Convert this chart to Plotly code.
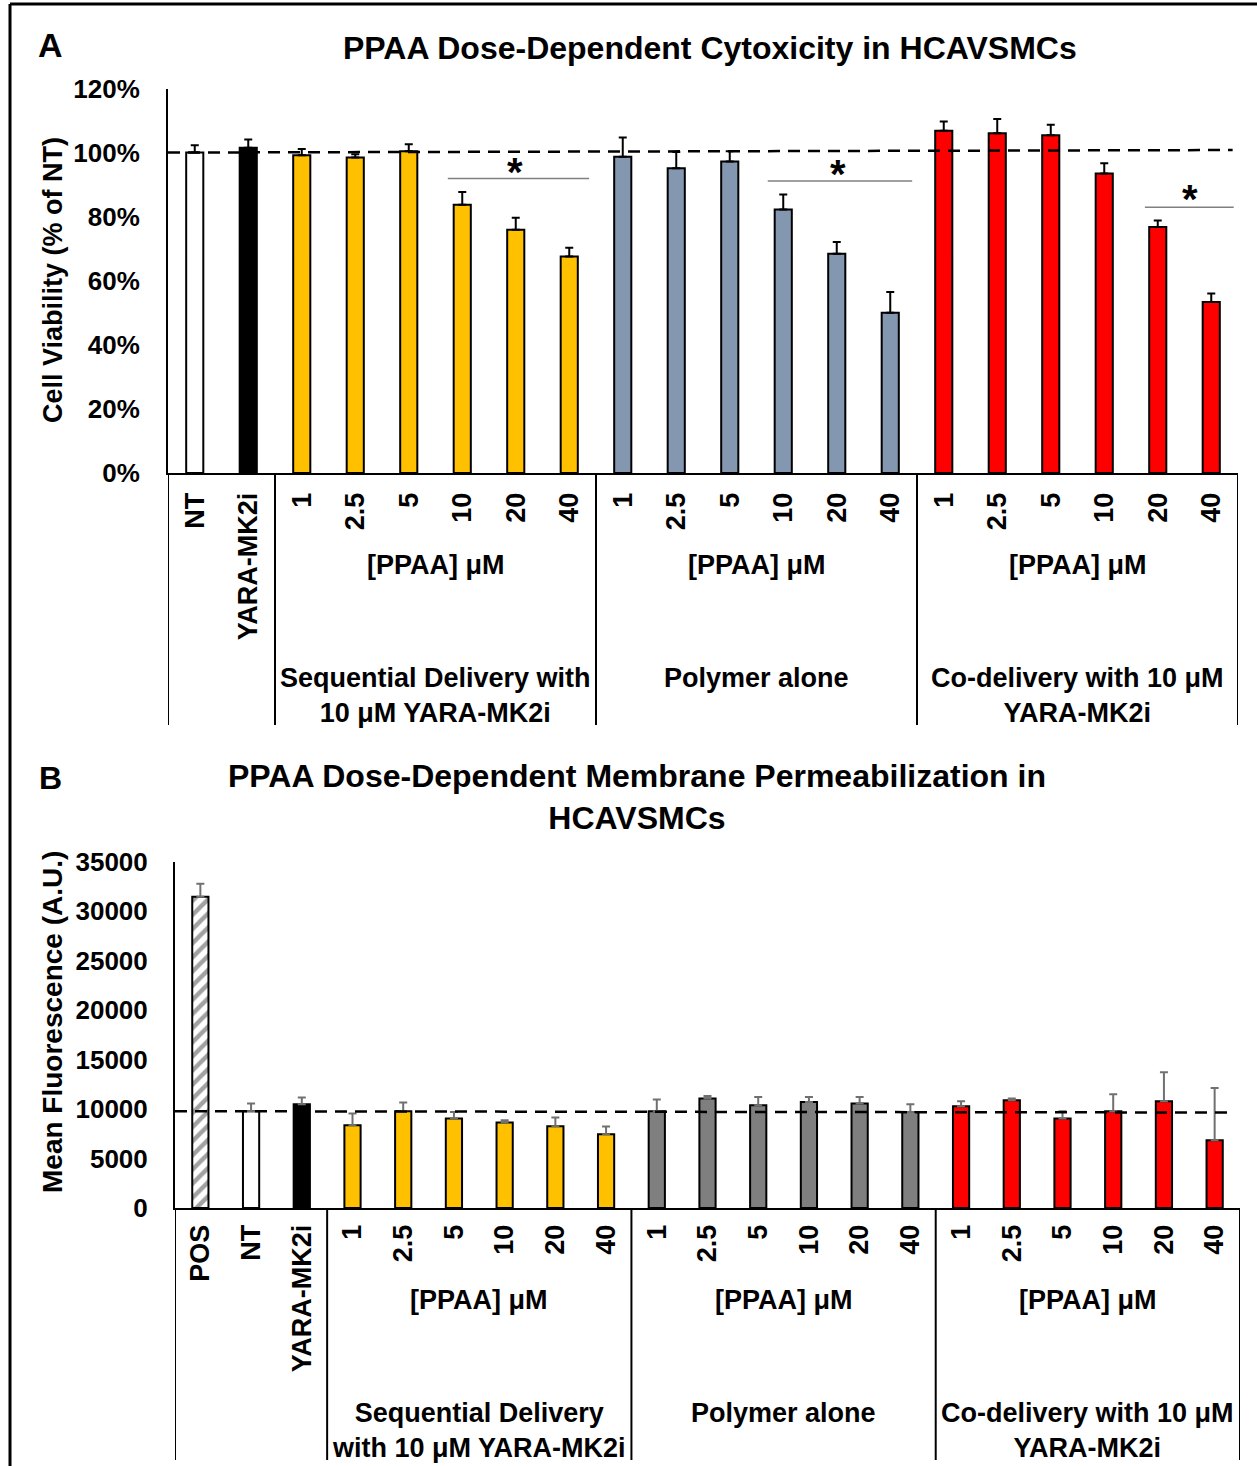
import plotly.graph_objects as go

W, H = 1257, 1466

# ---------------- data: panel A ----------------
a_labels = ["NT", "YARA-MK2i",
            "1", "2.5", "5", "10", "20", "40",
            "1", "2.5", "5", "10", "20", "40",
            "1", "2.5", "5", "10", "20", "40"]
a_groups = ["nt", "yara"] + ["seq"] * 6 + ["poly"] * 6 + ["co"] * 6
a_values = [100.0, 101.5, 99.2, 98.5, 100.4, 83.7, 75.9, 67.6,
            98.7, 95.1, 97.2, 82.2, 68.4, 50.0,
            106.8, 106.0, 105.4, 93.5, 76.8, 53.4]
a_errors = [2.3, 2.6, 1.9, 1.0, 2.2, 4.0, 3.8, 2.7,
            6.0, 5.1, 3.2, 4.7, 3.7, 6.5,
            2.9, 4.5, 3.3, 3.2, 2.0, 2.6]
a_yticks = [0, 20, 40, 60, 80, 100, 120]
a_yticktext = ["0%", "20%", "40%", "60%", "80%", "100%", "120%"]
a_ref_line = [100.0, 100.8]
a_sig_x0 = [4.73, 10.71, 17.76]
a_sig_x1 = [7.37, 13.41, 19.42]
a_sig_y = [91.9, 91.1, 82.9]
a_star_x = [5.99, 12.02, 18.6]
a_star_y = [95.3, 94.7, 86.8]
a_group_names = ["Sequential Delivery with<br>10 μM YARA-MK2i",
                 "Polymer alone",
                 "Co-delivery with 10 μM<br>YARA-MK2i"]
a_group_spans = [(2, 7), (8, 13), (14, 19)]

# ---------------- data: panel B ----------------
b_labels = ["POS", "NT", "YARA-MK2i",
            "1", "2.5", "5", "10", "20", "40",
            "1", "2.5", "5", "10", "20", "40",
            "1", "2.5", "5", "10", "20", "40"]
b_groups = ["pos", "nt", "yara"] + ["seq"] * 6 + ["poly2"] * 6 + ["co"] * 6
b_values = [31460, 9780, 10490,
            8370, 9780, 9040, 8640, 8260, 7460,
            9780, 11070, 10390, 10720, 10560, 9710,
            10290, 10890, 9040, 9780, 10790, 6850]
b_errors = [1300, 780, 680,
            1180, 880, 670, 230, 880, 780,
            1180, 260, 840, 500, 670, 780,
            500, 170, 740, 1720, 2930, 5290]
b_ref_line = [9780, 9650]
b_group_names = ["Sequential Delivery<br>with 10 μM YARA-MK2i",
                 "Polymer alone",
                 "Co-delivery with 10 μM<br>YARA-MK2i"]
b_group_spans = [(3, 8), (9, 14), (15, 20)]

title_a = "PPAA Dose-Dependent Cytoxicity in HCAVSMCs"
title_b = "PPAA Dose-Dependent Membrane Permeabilization in<br>HCAVSMCs"
ytitle_a = "Cell Viability (% of NT)"
ytitle_b = "Mean Fluorescence (A.U.)"
conc_label = "[PPAA] μM"

# ---------------- styling ----------------
FONT = "Liberation Sans, Arial, sans-serif"
color_map = {"nt": "#FFFFFF", "yara": "#000000", "seq": "#FFC000",
             "poly": "#8497B0", "poly2": "#7F7F7F", "co": "#FF0000",
             "pos": "#FFFFFF"}


def px(x):
    return x / W


def py(y):
    return 1 - y / H


fig = go.Figure()

ax_x = list(range(len(a_labels)))
fig.add_trace(go.Bar(
    x=ax_x, y=a_values, width=0.32,
    marker=dict(color=[color_map[g] for g in a_groups],
                line=dict(color="black", width=2)),
    error_y=dict(type="data", symmetric=False, array=a_errors,
                 arrayminus=[0] * len(a_errors), color="black",
                 thickness=2, width=4),
    xaxis="x", yaxis="y", showlegend=False, hoverinfo="skip"))

bx_x = list(range(len(b_labels)))
fig.add_trace(go.Bar(
    x=bx_x, y=b_values, width=0.32,
    marker=dict(color=[color_map[g] for g in b_groups],
                line=dict(color="black", width=2),
                pattern=dict(shape=["/" if g == "pos" else "" for g in b_groups],
                             fillmode="overlay", fgcolor="black",
                             size=10, solidity=0.45)),
    error_y=dict(type="data", symmetric=False, array=b_errors,
                 arrayminus=[0] * len(b_errors), color="#707070",
                 thickness=2, width=4),
    xaxis="x2", yaxis="y2", showlegend=False, hoverinfo="skip"))

xtickfont = dict(family=FONT, size=27, color="black", weight="bold")
ytickfont = dict(family=FONT, size=26, color="black", weight="bold")

common = dict(showline=True, linecolor="black", linewidth=2,
              ticks="outside", tickcolor="rgba(0,0,0,0)",
              showgrid=False, zeroline=False, automargin=False)

fig.update_layout(
    template="none",
    width=W, height=H, margin=dict(l=0, r=0, t=0, b=0, pad=0),
    autosize=False,
    paper_bgcolor="white", plot_bgcolor="white",
    font=dict(family=FONT, color="black"),
    xaxis=dict(domain=[px(168), px(1238)], anchor="y",
               range=[-0.5, len(a_labels) - 0.5],
               tickvals=ax_x, ticktext=a_labels, tickangle=-90,
               tickfont=xtickfont, ticklen=7, **common),
    yaxis=dict(domain=[py(473), py(88.5)], anchor="x",
               range=[0, 120], tickvals=a_yticks, ticktext=a_yticktext,
               tickfont=ytickfont, ticklen=21, **common),
    xaxis2=dict(domain=[px(175), px(1240)], anchor="y2",
                range=[-0.5, len(b_labels) - 0.5],
                tickvals=bx_x, ticktext=b_labels, tickangle=-90,
                tickfont=xtickfont, ticklen=4, **common),
    yaxis2=dict(domain=[py(1208), py(861.7)], anchor="x2",
                range=[0, 35000], dtick=5000, tickformat="d",
                tickfont=ytickfont, ticklen=20, **common),
)

shapes = []
# outer frame (top and left)
shapes.append(dict(type="line", xref="paper", yref="paper",
                   x0=px(10), x1=1, y0=py(4), y1=py(4),
                   line=dict(color="black", width=3)))
shapes.append(dict(type="line", xref="paper", yref="paper",
                   x0=px(10), x1=px(10), y0=py(4), y1=0,
                   line=dict(color="black", width=3)))

# category separators
for xv in [-0.5, 1.5] + [s[1] + 0.5 for s in a_group_spans]:
    shapes.append(dict(type="line", xref="x", yref="paper", x0=xv, x1=xv,
                       y0=py(473), y1=py(725),
                       line=dict(color="black", width=2)))
for xv in [-0.5, 2.5] + [s[1] + 0.5 for s in b_group_spans]:
    shapes.append(dict(type="line", xref="x2", yref="paper", x0=xv, x1=xv,
                       y0=py(1208), y1=py(1460),
                       line=dict(color="black", width=2)))

# dashed reference lines
shapes.append(dict(type="line", xref="x", yref="y", x0=-0.5, x1=19.4,
                   y0=a_ref_line[0], y1=a_ref_line[1],
                   line=dict(color="black", width=2.5, dash="12px,8px"),
                   layer="above"))
shapes.append(dict(type="line", xref="x2", yref="y2", x0=-0.5, x1=20.3,
                   y0=b_ref_line[0], y1=b_ref_line[1],
                   line=dict(color="black", width=2.5, dash="12px,8px"),
                   layer="above"))

# significance lines
for x0, x1, yv in zip(a_sig_x0, a_sig_x1, a_sig_y):
    shapes.append(dict(type="line", xref="x", yref="y", x0=x0, x1=x1,
                       y0=yv, y1=yv, line=dict(color="#808080", width=1.5)))

fig.update_layout(shapes=shapes)

ann = []


def bold(s):
    return dict(family=FONT, size=s, color="black", weight="bold")


def note(text, x, y, size, xref="paper", yref="paper", **kw):
    d = dict(text=text, x=x, y=y, xref=xref, yref=yref, showarrow=False,
             xanchor="center", yanchor="middle", font=bold(size))
    d.update(kw)
    return d


ann.append(note("A", px(50), py(45), 34))
ann.append(note("B", px(50), py(778), 32))
ann.append(note(title_a, px(710), py(48), 32))
ann.append(note(title_b, px(637), py(797), 32))
ann.append(note(ytitle_a, px(53), py(280), 27, textangle=-90))
ann.append(note(ytitle_b, px(52), py(1022), 28, textangle=-90))

for sx, sy in zip(a_star_x, a_star_y):
    ann.append(note("*", sx, sy, 40, xref="x", yref="y", yshift=-4))

for (s0, s1), name in zip(a_group_spans, a_group_names):
    c = (s0 + s1) / 2
    ann.append(note(conc_label, c, py(565), 27, xref="x"))
    ann.append(note(name, c, py(661), 27, xref="x", yanchor="top"))
for (s0, s1), name in zip(b_group_spans, b_group_names):
    c = (s0 + s1) / 2
    ann.append(note(conc_label, c, py(1300), 27, xref="x2"))
    ann.append(note(name, c, py(1396), 27, xref="x2", yanchor="top"))

fig.update_layout(annotations=ann)

fig.write_html("out.html", config={"displayModeBar": False},
               post_script="document.body.style.margin='0';")
